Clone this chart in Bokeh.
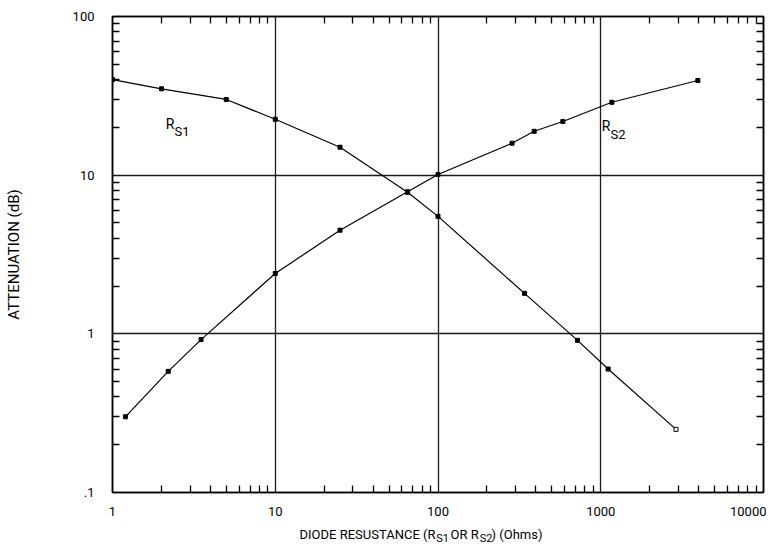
import math
from bokeh.plotting import figure
from bokeh.layouts import column
from bokeh.models import FixedTicker, LogAxis, Label, CustomJSTickFormatter, Range1d
from bokeh.embed import file_html
from bokeh.resources import INLINE

# ---- data ----
rs1_ohms = [1.0, 2.0, 5.0, 10.0, 25.0, 65.0, 100.0, 340.0, 720.0, 1110.0, 2900.0]
rs1_db = [40.0, 35.0, 30.0, 22.5, 15.0, 7.8, 5.5, 1.8, 0.91, 0.60, 0.25]

rs2_ohms = [1.2, 2.2, 3.5, 10.0, 25.0, 65.0, 100.0, 285.0, 390.0, 585.0, 1170.0, 3950.0]
rs2_db = [0.30, 0.58, 0.92, 2.4, 4.5, 7.85, 10.1, 15.9, 18.9, 21.8, 28.8, 39.5]

x_ticks = [1, 10, 100, 1000, 10000]
x_tick_labels = ["1", "10", "100", "1000", "10000"]
y_ticks = [0.1, 1, 10, 100]
y_tick_labels = [".1", "1", "10", "100"]

FONT = "Roboto"
W = 766
MAIN_H = 522
TITLE_H = 21

x_minor = [k * 10 ** d for d in range(0, 4) for k in range(2, 10)]
y_minor = [k * 10 ** d for d in range(-1, 2) for k in range(2, 10)]

p = figure(width=W, height=MAIN_H,
           x_axis_type="log", y_axis_type="log",
           x_range=(1, 10000), y_range=(0.1, 100),
           min_border_left=112, min_border_right=3,
           min_border_top=16, min_border_bottom=30,
           output_backend="svg", toolbar_location=None,
           background_fill_color="white", border_fill_color="white")

p.outline_line_color = "black"
p.outline_line_width = 1.5

FMT_CODE = """
for (let i = 0; i < tk.length; i++) {
    if (Math.abs(Math.log10(tick) - Math.log10(tk[i])) < 1e-6) { return lb[i]; }
}
return " ";
"""

def style_axis(ax, ticks, minor, labels, show_labels, standoff):
    ax.ticker = FixedTicker(ticks=ticks, minor_ticks=minor)
    ax.axis_line_color = "black"
    ax.axis_line_width = 1.5
    ax.major_tick_in = 0
    ax.major_tick_out = 0
    ax.minor_tick_in = 7
    ax.minor_tick_out = 0
    ax.minor_tick_line_color = "black"
    ax.minor_tick_line_width = 1.3
    ax.major_label_text_font = FONT
    if show_labels:
        ax.formatter = CustomJSTickFormatter(args=dict(tk=ticks, lb=labels), code=FMT_CODE)
        ax.major_label_text_font_size = "13px"
        ax.major_label_text_color = "black"
        ax.major_label_standoff = standoff
    else:
        ax.major_label_text_font_size = "1px"
        ax.major_label_text_alpha = 0.0
        ax.major_label_standoff = 0

style_axis(p.xaxis[0], x_ticks, x_minor, x_tick_labels, True, 14)
style_axis(p.yaxis[0], y_ticks, y_minor, y_tick_labels, True, 18)

p.yaxis[0].axis_label = "ATTENUATION (dB)"
p.yaxis[0].axis_label_text_font = FONT
p.yaxis[0].axis_label_text_font_size = "15px"
p.yaxis[0].axis_label_text_font_style = "normal"
p.yaxis[0].axis_label_text_color = "black"
p.yaxis[0].axis_label_standoff = 47

top = LogAxis()
style_axis(top, x_ticks, x_minor, x_tick_labels, False, 0)
p.add_layout(top, "above")
right = LogAxis()
style_axis(right, y_ticks, y_minor, y_tick_labels, False, 0)
p.add_layout(right, "right")

p.xgrid.ticker = FixedTicker(ticks=x_ticks)
p.ygrid.ticker = FixedTicker(ticks=y_ticks)
for g in (p.xgrid[0], p.ygrid[0]):
    g.grid_line_color = "#1a1a1a"
    g.grid_line_width = 1.3
    g.grid_line_alpha = 1.0

# ---- curves ----
p.line(rs1_ohms, rs1_db, line_color="black", line_width=1.2)
p.line(rs2_ohms, rs2_db, line_color="black", line_width=1.2)
p.scatter(rs1_ohms[:-1], rs1_db[:-1], marker="square", size=4, color="black")
p.scatter(rs1_ohms[-1:], rs1_db[-1:], marker="square", size=4,
          line_color="black", fill_color="white", line_width=1)
p.scatter(rs2_ohms, rs2_db, marker="square", size=4, color="black")

# ---- curve labels (canvas pixel -> data coordinates) ----
def px_x(px):
    return 10 ** ((px - 112) / 162.75)

def px_y(py):
    return 10 ** ((332.7 - py) / 158.7)

def add_text(fig, txt, x, y, size="14px", align="left"):
    fig.add_layout(Label(x=x, y=y, text=txt, text_font=FONT,
                         text_font_size=size, text_color="black",
                         text_align=align, text_baseline="alphabetic"))

add_text(p, "R", px_x(174), px_y(123), align="right")
add_text(p, "S1", px_x(174), px_y(130), size="13px")
add_text(p, "R", px_x(610), px_y(125), align="right")
add_text(p, "S2", px_x(610), px_y(133), size="13px")

# ---- x-axis title strip (its own small canvas, pixel coordinates) ----
t = figure(width=W, height=TITLE_H, x_range=Range1d(0, W), y_range=Range1d(TITLE_H, 0),
           min_border=0, output_backend="svg", toolbar_location=None,
           background_fill_color="white", border_fill_color="white")
t.axis.visible = False
t.grid.visible = False
t.outline_line_color = None

add_text(t, "DIODE RESUSTANCE (R", 380, 12, size="13px", align="right")
add_text(t, "S1", 381, 16, size="11px")
add_text(t, "OR R", 431, 12, size="13px", align="right")
add_text(t, "S2", 432, 16, size="11px")
add_text(t, ") (Ohms)", 446, 12, size="13px")

layout = column(p, t, spacing=0)
open("out.html", "w").write(file_html(layout, INLINE))
